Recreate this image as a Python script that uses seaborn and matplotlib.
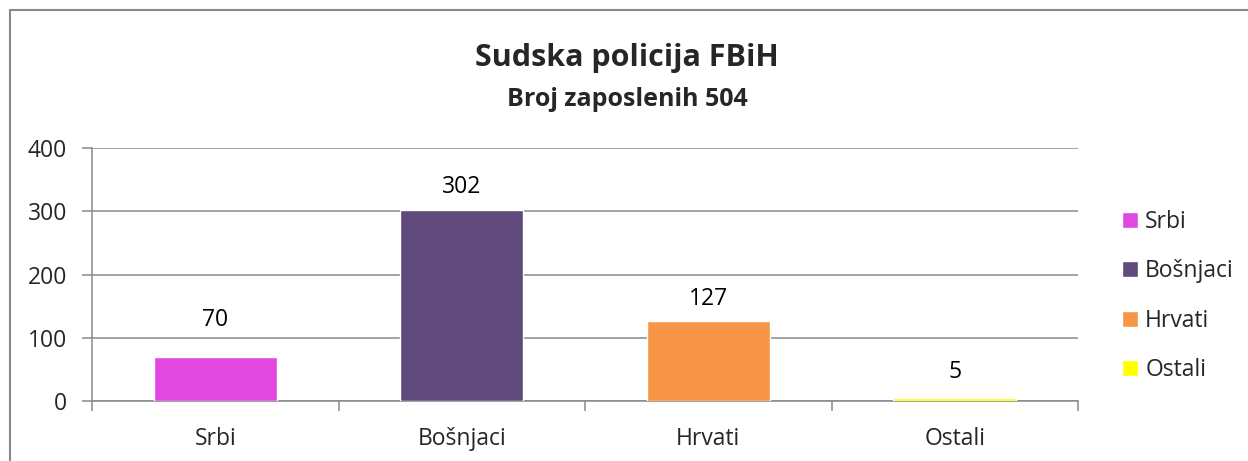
import matplotlib
matplotlib.use('Agg')
import matplotlib.pyplot as plt
import seaborn as sns
import numpy as np
from matplotlib.lines import Line2D

# Chart data
categories = ['Srbi', 'Bošnjaci', 'Hrvati', 'Ostali']
employees = [70, 302, 127, 5]
bar_colors = ['#E048E0', '#604A7B', '#F79646', '#FFFF00']
y_ticks = [0, 100, 200, 300, 400]
title_text = 'Sudska policija FBiH'
subtitle_text = 'Broj zaposlenih 504'

sns.set_theme(style='white')
plt.rcParams['font.family'] = ['Open Sans', 'DejaVu Sans']

grey = '#898989'
fs = 16.5

fig = plt.figure(figsize=(12.48, 4.61), dpi=100)
ax = fig.add_axes([92 / 1248, 1 - 401 / 461, 986 / 1248, 253 / 461])

sns.barplot(x=categories, y=employees, hue=categories, palette=bar_colors,
            width=0.5, legend=True, saturation=1, ax=ax, zorder=3)

# value labels above bars (Excel put them at slightly different heights)
label_pads = [18, 8, 7, 10]
for cont, pad in zip(ax.containers, label_pads):
    ax.bar_label(cont, padding=pad, fontsize=fs, color='black')

ax.set_xlim(-0.5, 3.5)
ax.set_ylim(0, 400)
ax.set_yticks(y_ticks)
ax.set_yticklabels([str(t) for t in y_ticks], fontsize=fs)
ax.yaxis.grid(True, color=grey, linewidth=1.1)
ax.set_axisbelow(True)

# ticks at category borders, labels in the middle
ax.set_xticks(np.arange(-0.5, 4, 1))
ax.set_xticklabels([])
ax.set_xticks(np.arange(len(categories)), minor=True)
ax.set_xticklabels(categories, minor=True, fontsize=fs)
ax.tick_params(axis='x', which='major', length=7, width=1.1, color=grey, direction='out', bottom=True)
ax.tick_params(axis='x', which='minor', length=0, pad=19)
ax.tick_params(axis='y', length=7, width=1.1, color=grey, direction='out', left=True, pad=11)

for side in ['top', 'right']:
    ax.spines[side].set_visible(False)
for side in ['left', 'bottom']:
    ax.spines[side].set_color(grey)
    ax.spines[side].set_linewidth(1.1)

ax.set_xlabel('')
ax.set_ylabel('')

# legend on the right
leg = ax.legend(loc='center left', bbox_to_anchor=(1.024, 0.415), frameon=False,
                fontsize=fs, handlelength=0.7, handleheight=0.7,
                handletextpad=0.3, labelspacing=1.1)

# titles
fig.text(627 / 1248, 1 - 58 / 461, title_text, ha='center', va='center',
         fontsize=22, fontweight='bold')
fig.text(627 / 1248, 1 - 99 / 461, subtitle_text, ha='center', va='center',
         fontsize=18, fontweight='bold')

# chart frame (top and left edges visible)
fig.add_artist(Line2D([10 / 1248, 1], [1 - 10 / 461, 1 - 10 / 461], color=grey, linewidth=1.5))
fig.add_artist(Line2D([10 / 1248, 10 / 1248], [0, 1 - 10 / 461], color=grey, linewidth=1.5))

fig.savefig('out.png', dpi=100)
